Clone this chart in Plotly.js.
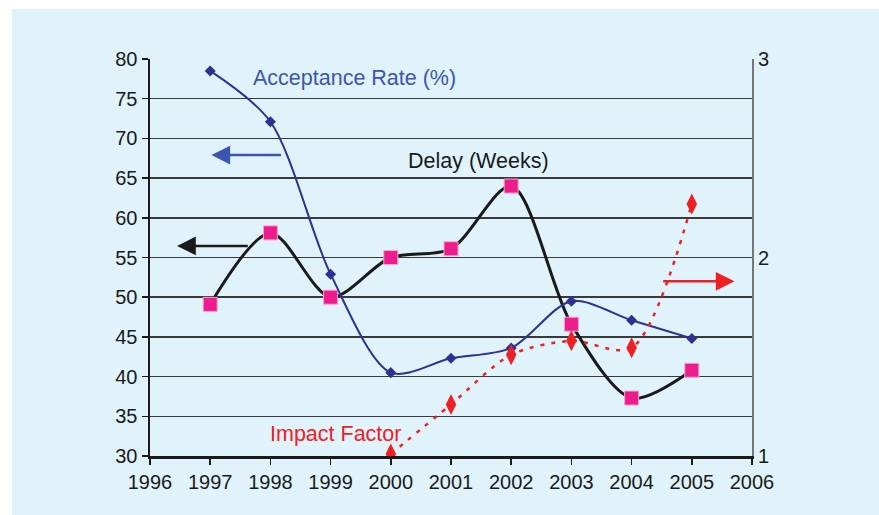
<!DOCTYPE html>
<html>
<head>
<meta charset="utf-8">
<script src="https://cdn.plot.ly/plotly-3.0.1.min.js"></script>
<style>
  html, body { margin: 0; padding: 0; background: #ffffff; }
  #chart { position: absolute; left: 12px; top: 9px; width: 867px; height: 506px; }
</style>
</head>
<body>
<div id="chart"></div>
<script>
const years = [1997, 1998, 1999, 2000, 2001, 2002, 2003, 2004, 2005];
const acceptanceRate = [78.5, 72.1, 52.9, 40.5, 42.3, 43.6, 49.5, 47.1, 44.8];
const delayWeeks = [49.1, 58.1, 50.0, 55.0, 56.1, 64.0, 46.6, 37.3, 40.8];
const impactYears = [2000, 2001, 2002, 2003, 2004, 2005];
const impactFactor = [1.01, 1.26, 1.51, 1.58, 1.545, 2.27];
const xTicks = [1996, 1997, 1998, 1999, 2000, 2001, 2002, 2003, 2004, 2005, 2006];

const font = 'Liberation Sans, Arial, sans-serif';
const bg = '#e0f3fb';

const traces = [
  {
    x: years, y: delayWeeks, type: 'scatter', mode: 'lines+markers',
    line: { color: '#1a1a1a', width: 3, shape: 'spline', smoothing: 0.85 },
    marker: { symbol: 'square', size: 14, color: '#ec1c8c', line: { color: '#f5a3cf', width: 1 } },
    yaxis: 'y', hoverinfo: 'skip'
  },
  {
    x: years, y: acceptanceRate, type: 'scatter', mode: 'lines+markers',
    line: { color: '#2e3192', width: 2, shape: 'spline', smoothing: 0.85 },
    marker: { symbol: 'diamond', size: 8.5, color: '#2e3192' },
    yaxis: 'y', hoverinfo: 'skip'
  },
  {
    x: impactYears, y: impactFactor, type: 'scatter', mode: 'lines+markers',
    line: { color: '#ed2024', width: 2.5, shape: 'spline', smoothing: 0.85, dash: '4px,7px' },
    marker: { symbol: 'diamond-tall', size: 15, color: '#ed2024' },
    yaxis: 'y2', hoverinfo: 'skip'
  }
];

const layout = {
  width: 867, height: 506,
  margin: { l: 138, r: 127, t: 50, b: 59 },
  paper_bgcolor: bg, plot_bgcolor: bg,
  showlegend: false,
  hovermode: false,
  font: { family: font, size: 20, color: '#1a1a1a' },
  xaxis: {
    range: [1996, 2006], tickvals: xTicks, ticktext: xTicks.map(String),
    ticks: 'outside', ticklen: 6, tickwidth: 1.5, tickcolor: '#1a1a1a',
    showline: true, linecolor: '#1a1a1a', linewidth: 2.5,
    showgrid: false, zeroline: false,
    tickfont: { family: font, size: 20, color: '#1a1a1a' }
  },
  yaxis: {
    range: [30, 80], dtick: 5, tick0: 30,
    ticks: 'outside', ticklen: 6, tickwidth: 1.5, tickcolor: '#1a1a1a',
    showline: true, linecolor: '#1a1a1a', linewidth: 2.5,
    showgrid: true, gridcolor: '#3a3a3a', gridwidth: 1.5, zeroline: false,
    tickfont: { family: font, size: 20, color: '#1a1a1a' }
  },
  yaxis2: {
    range: [1, 3], dtick: 1, tick0: 1, overlaying: 'y', side: 'right',
    ticks: 'outside', ticklen: 0, showline: true, linecolor: '#777777', linewidth: 2,
    showgrid: false, zeroline: false,
    tickfont: { family: font, size: 20, color: '#1a1a1a' }
  },
  annotations: [
    { x: 1999.4, y: 77.6, xref: 'x', yref: 'y', text: 'Acceptance Rate (%)', showarrow: false,
      font: { family: font, size: 21.5, color: '#3b55b0' } },
    { x: 2001.46, y: 67.15, xref: 'x', yref: 'y', text: 'Delay (Weeks)', showarrow: false,
      font: { family: font, size: 21.5, color: '#1a1a1a' } },
    { x: 1999.08, y: 32.8, xref: 'x', yref: 'y', text: 'Impact Factor', showarrow: false,
      font: { family: font, size: 21.5, color: '#ed2024' } },
    { x: 1997.02, y: 67.9, ax: 1998.2, ay: 67.9, xref: 'x', yref: 'y', axref: 'x', ayref: 'y',
      text: '', showarrow: true, arrowhead: 2, arrowsize: 1.5, arrowwidth: 2.5, arrowcolor: '#3b55b0' },
    { x: 1996.45, y: 56.45, ax: 1997.65, ay: 56.45, xref: 'x', yref: 'y', axref: 'x', ayref: 'y',
      text: '', showarrow: true, arrowhead: 2, arrowsize: 1.5, arrowwidth: 2.5, arrowcolor: '#1a1a1a' },
    { x: 2005.71, y: 1.88, ax: 2004.5, ay: 1.88, xref: 'x', yref: 'y2', axref: 'x', ayref: 'y2',
      text: '', showarrow: true, arrowhead: 2, arrowsize: 1.5, arrowwidth: 2.5, arrowcolor: '#ed2024' }
  ]
};

Plotly.newPlot('chart', traces, layout, { displayModeBar: false, staticPlot: true });
</script>
</body>
</html>
